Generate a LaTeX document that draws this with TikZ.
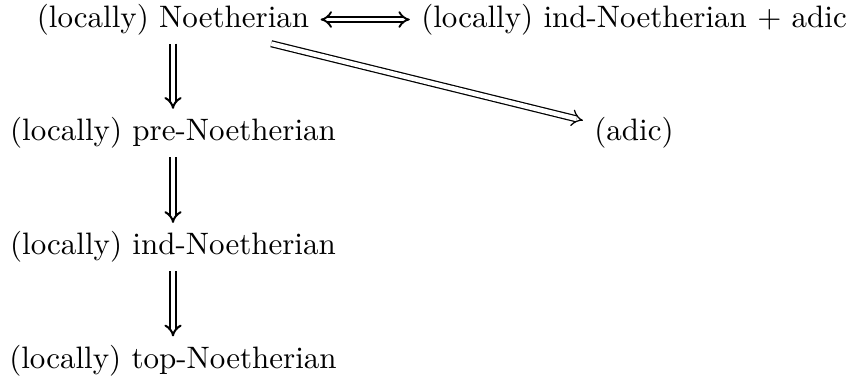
\documentclass[tikz,border=0pt]{standalone}
\usetikzlibrary{arrows.meta}
\tikzset{
  cell/.style={inner xsep=3.5pt, inner ysep=2.6pt, text height=7.5pt, text depth=2.5pt, anchor=base},
  imp/.style={double, double distance=1.2pt, line width=0.65pt, -{Implies}},
  impthin/.style={double, double distance=1.5pt, line width=0.4pt, -{Implies}},
  iff/.style={double, double distance=1.2pt, line width=0.6pt, {Implies}-{Implies}},
}
\begin{document}
\begin{tikzpicture}[x=1pt,y=1pt]
  \useasboundingbox (0,0) rectangle (274.8,-122.3);
  \node[cell] (n)   at (55.8,-8.8)   {(locally) Noetherian};
  \node[cell] (ia)  at (204.5,-8.8)  {(locally) ind-Noetherian $+$ adic};
  \node[cell] (pre) at (55.8,-45.4)  {(locally) pre-Noetherian};
  \node[cell] (adic) at (204.5,-45.4) {(adic)};
  \node[cell] (ind) at (55.8,-82.2)  {(locally) ind-Noetherian};
  \node[cell] (top) at (55.8,-118.8) {(locally) top-Noetherian};
  \draw[iff] (n) -- (ia);
  \draw[imp] (n) -- (pre);
  \draw[imp] (pre) -- (ind);
  \draw[imp] (ind) -- (top);
  \draw[impthin] (n) -- (adic);
\end{tikzpicture}
\end{document}
